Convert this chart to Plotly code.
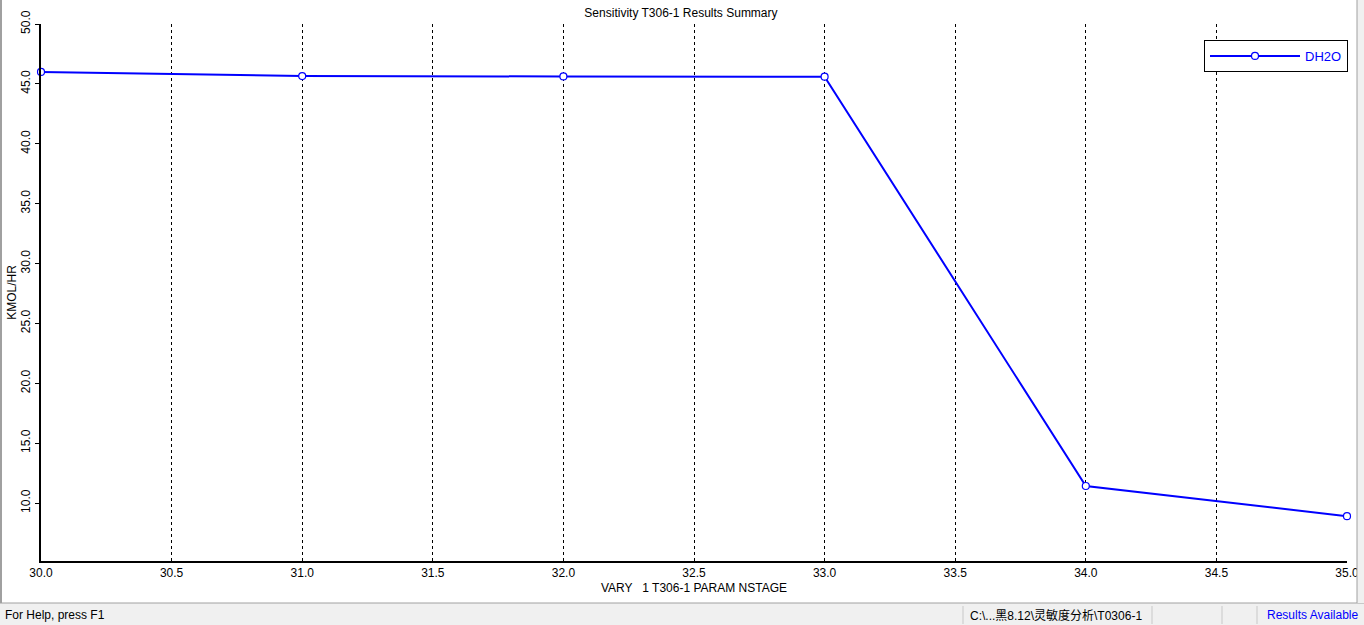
import plotly.graph_objects as go

# ---- data ----
nstage = [30.0, 31.0, 32.0, 33.0, 34.0, 35.0]
dh2o = [46.0, 45.65, 45.62, 45.6, 11.42, 8.9]
x_ticks = [30.0, 30.5, 31.0, 31.5, 32.0, 32.5, 33.0, 33.5, 34.0, 34.5, 35.0]
y_ticks = [10.0, 15.0, 20.0, 25.0, 30.0, 35.0, 40.0, 45.0, 50.0]

W, H = 1364, 625
L, R, T, B = 41, 1347, 24, 561

def px(x):
    return (x - L) / (R - L)

def py(y):
    return (B - y) / (B - T)

font = "Liberation Sans, Arial, sans-serif"

fig = go.Figure()
fig.add_trace(go.Scatter(
    x=nstage, y=dh2o, mode="lines+markers", name="DH2O",
    line=dict(color="#0000FF", width=2),
    marker=dict(symbol="circle", size=7, color="white",
                line=dict(color="#0000FF", width=1.2)),
    cliponaxis=False,
))

shapes = []
# status bar
shapes.append(dict(type="rect", xref="paper", yref="paper",
                   x0=px(0), x1=px(W), y0=py(603), y1=py(H + 2),
                   fillcolor="#F0F0F0", line=dict(width=0), layer="below"))
shapes.append(dict(type="line", xref="paper", yref="paper",
                   x0=px(0), x1=px(W), y0=py(603), y1=py(603),
                   line=dict(color="#A0A0A0", width=1)))
for sx in [963, 1152, 1222, 1257]:
    shapes.append(dict(type="line", xref="paper", yref="paper",
                       x0=px(sx), x1=px(sx), y0=py(606), y1=py(624),
                       line=dict(color="#C8C8C8", width=1)))
# left and right window borders
shapes.append(dict(type="rect", xref="paper", yref="paper",
                   x0=px(0), x1=px(2), y0=py(0), y1=py(603),
                   fillcolor="#A0A0A0", line=dict(width=0)))
shapes.append(dict(type="rect", xref="paper", yref="paper",
                   x0=px(1357), x1=px(W + 2), y0=py(0), y1=py(603),
                   fillcolor="#F0F0F0", line=dict(width=0)))
shapes.append(dict(type="line", xref="paper", yref="paper",
                   x0=px(1357), x1=px(1357), y0=py(0), y1=py(603),
                   line=dict(color="#A0A0A0", width=1)))

annotations = [
    dict(text="For Help, press F1", xref="paper", yref="paper",
         x=px(3), y=py(615), xanchor="left", yanchor="middle",
         showarrow=False, font=dict(family=font, size=12, color="black")),
    dict(text="C:\\...黑8.12\\灵敏度分析\\T0306-1", xref="paper", yref="paper",
         x=px(968), y=py(615), xanchor="left", yanchor="middle",
         showarrow=False, font=dict(family="Liberation Sans, Noto Sans CJK SC, sans-serif", size=12, color="black")),
    dict(text="Results Available", xref="paper", yref="paper",
         x=px(1360), y=py(615), xanchor="right", yanchor="middle",
         showarrow=False, font=dict(family=font, size=12, color="#0000FF")),
]

fig.update_layout(
    width=W, height=H,
    margin=dict(l=L, r=W - R, t=T, b=H - B, pad=0, autoexpand=False),
    paper_bgcolor="white", plot_bgcolor="white",
    title=dict(text="Sensitivity T306-1 Results Summary", x=px(693), xanchor="center",
               y=1 - 13 / H, yanchor="middle", automargin=False,
               font=dict(family=font, size=12, color="black")),
    font=dict(family=font, size=12, color="black"),
    xaxis=dict(range=[30, 35], tickvals=x_ticks,
               ticktext=[f"{v:.1f}" for v in x_ticks],
               showgrid=True, gridcolor="black", griddash="3px,3px", gridwidth=1,
               showline=True, linecolor="black", linewidth=2,
               ticks="", zeroline=False, automargin=False,
               title=dict(text="VARY &nbsp;&nbsp;1 T306-1 PARAM NSTAGE",
                          font=dict(family=font, size=12, color="black"), standoff=4),
               tickfont=dict(family=font, size=12, color="black")),
    yaxis=dict(range=[50 - (B - T) / 11.975, 50], tickvals=y_ticks,
               ticktext=[f"{v:.1f}" for v in y_ticks],
               showgrid=False, showline=True, linecolor="black", linewidth=2,
               ticks="outside", ticklen=4, tickcolor="black", tickwidth=1,
               tickangle=-90, zeroline=False, automargin=False,
               title=dict(text="KMOL/HR", font=dict(family=font, size=12, color="black"), standoff=0),
               tickfont=dict(family=font, size=12, color="black")),
    showlegend=True,
    legend=dict(x=px(1204), y=py(40), xanchor="left", yanchor="top",
                bordercolor="black", borderwidth=1, bgcolor="white",
                itemwidth=90,
                font=dict(family=font, size=13, color="#0000FF")),
    shapes=shapes, annotations=annotations,
)

fig.write_html(
    "out.html",
    config={"displayModeBar": False},
    post_script="document.body.style.margin='0';document.body.style.overflow='hidden';",
)
